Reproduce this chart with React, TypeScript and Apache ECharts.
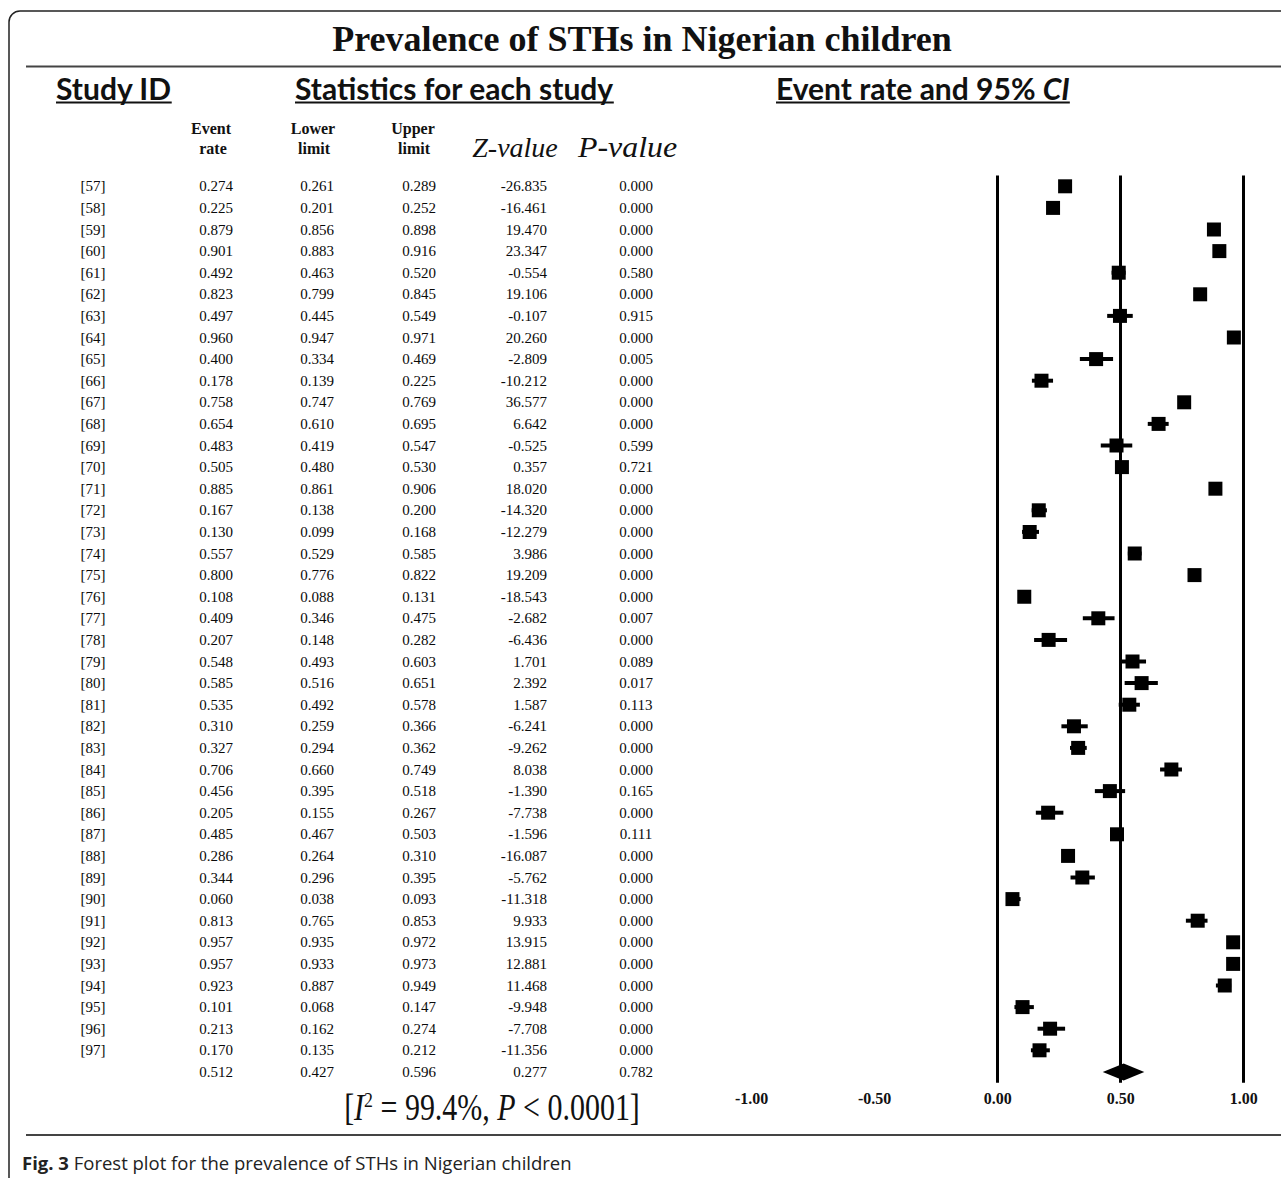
import React, { useEffect, useRef } from "react";
import * as echarts from "echarts";

const studyIds = [
  "[57]", "[58]", "[59]", "[60]", "[61]", "[62]", "[63]", "[64]", "[65]", "[66]",
  "[67]", "[68]", "[69]", "[70]", "[71]", "[72]", "[73]", "[74]", "[75]", "[76]",
  "[77]", "[78]", "[79]", "[80]", "[81]", "[82]", "[83]", "[84]", "[85]", "[86]",
  "[87]", "[88]", "[89]", "[90]", "[91]", "[92]", "[93]", "[94]", "[95]", "[96]", "[97]",
];
const eventRate = [
  0.274, 0.225, 0.879, 0.901, 0.492, 0.823, 0.497, 0.960, 0.400, 0.178,
  0.758, 0.654, 0.483, 0.505, 0.885, 0.167, 0.130, 0.557, 0.800, 0.108,
  0.409, 0.207, 0.548, 0.585, 0.535, 0.310, 0.327, 0.706, 0.456, 0.205,
  0.485, 0.286, 0.344, 0.060, 0.813, 0.957, 0.957, 0.923, 0.101, 0.213, 0.170,
];
const lowerLimit = [
  0.261, 0.201, 0.856, 0.883, 0.463, 0.799, 0.445, 0.947, 0.334, 0.139,
  0.747, 0.610, 0.419, 0.480, 0.861, 0.138, 0.099, 0.529, 0.776, 0.088,
  0.346, 0.148, 0.493, 0.516, 0.492, 0.259, 0.294, 0.660, 0.395, 0.155,
  0.467, 0.264, 0.296, 0.038, 0.765, 0.935, 0.933, 0.887, 0.068, 0.162, 0.135,
];
const upperLimit = [
  0.289, 0.252, 0.898, 0.916, 0.520, 0.845, 0.549, 0.971, 0.469, 0.225,
  0.769, 0.695, 0.547, 0.530, 0.906, 0.200, 0.168, 0.585, 0.822, 0.131,
  0.475, 0.282, 0.603, 0.651, 0.578, 0.366, 0.362, 0.749, 0.518, 0.267,
  0.503, 0.310, 0.395, 0.093, 0.853, 0.972, 0.973, 0.949, 0.147, 0.274, 0.212,
];
const zValue = [
  -26.835, -16.461, 19.470, 23.347, -0.554, 19.106, -0.107, 20.260, -2.809, -10.212,
  36.577, 6.642, -0.525, 0.357, 18.020, -14.320, -12.279, 3.986, 19.209, -18.543,
  -2.682, -6.436, 1.701, 2.392, 1.587, -6.241, -9.262, 8.038, -1.390, -7.738,
  -1.596, -16.087, -5.762, -11.318, 9.933, 13.915, 12.881, 11.468, -9.948, -7.708, -11.356,
];
const pValue = [
  0.000, 0.000, 0.000, 0.000, 0.580, 0.000, 0.915, 0.000, 0.005, 0.000,
  0.000, 0.000, 0.599, 0.721, 0.000, 0.000, 0.000, 0.000, 0.000, 0.000,
  0.007, 0.000, 0.089, 0.017, 0.113, 0.000, 0.000, 0.000, 0.165, 0.000,
  0.111, 0.000, 0.000, 0.000, 0.000, 0.000, 0.000, 0.000, 0.000, 0.000, 0.000,
];
// pooled (summary) row: event rate, lower, upper, Z, P
const pooledRate = 0.512;
const pooledLower = 0.427;
const pooledUpper = 0.596;
const pooledZ = 0.277;
const pooledP = 0.782;

const xMin = -1;
const xMax = 1;
const xInterval = 0.5;
const referenceLines = [0, 0.5, 1];

const SERIF = '"Liberation Serif", "Times New Roman", serif';
const SANS = 'Lato, "Open Sans", sans-serif';

function measure(text: string, font: string): number {
  const ctx = document.createElement("canvas").getContext("2d");
  if (!ctx) return text.length * 10;
  ctx.font = font;
  return ctx.measureText(text).width;
}

export default function App() {
  const ref = useRef<HTMLDivElement>(null);

  useEffect(() => {
    document.body.style.margin = "0";
    if (!ref.current) return;
    const chart = echarts.init(ref.current, undefined, { renderer: "svg" });

    const nStudies = studyIds.length;
    const rowLabels = [...studyIds, ""];
    const rows = rowLabels.map((_, i) => {
      const pooled = i === nStudies;
      return {
        id: rowLabels[i],
        er: pooled ? pooledRate : eventRate[i],
        lo: pooled ? pooledLower : lowerLimit[i],
        hi: pooled ? pooledUpper : upperLimit[i],
        z: pooled ? pooledZ : zValue[i],
        p: pooled ? pooledP : pValue[i],
        pooled,
      };
    });

    const tableFont = `15px ${SERIF}`;
    const headFont = `bold 30px ${SANS}`;
    const headItalicFont = `italic bold 30px ${SANS}`;

    const h1 = "Study ID";
    const h2 = "Statistics for each study";
    const h3a = "Event rate and 95% ";
    const h3b = "CI";
    const w1 = measure(h1, headFont);
    const w2 = measure(h2, headFont);
    const w3 = measure(h3a, headFont) + measure(h3b, headItalicFont);
    const h1x = 56, h2x = 295, h3x = 776;
    const headY = 88;
    const ulY = 102.5;

    const colHeadFont = `bold 16px ${SERIF}`;

    const mk = (text: string, x: number, y: number, font: string, align = "center", extra: any = {}, el: any = {}) => ({
      type: "text",
      x,
      y,
      silent: true,
      ...el,
      style: {
        text,
        x: 0,
        y: 0,
        font,
        fill: "#111",
        align,
        verticalAlign: "middle",
        textAlign: align,
        textVerticalAlign: "middle",
        ...extra,
      },
    });

    const option: any = {
      animation: false,
      backgroundColor: "#fff",
      grid: { left: 751.7, width: 492, top: 175.5, height: 907.2, containLabel: false },
      xAxis: {
        type: "value",
        min: xMin,
        max: xMax,
        interval: xInterval,
        axisLine: { show: false },
        axisTick: { show: false },
        splitLine: { show: false },
        axisLabel: {
          margin: 8,
          formatter: (v: number) => v.toFixed(2),
          fontFamily: SERIF,
          fontWeight: "bold",
          fontSize: 16,
          color: "#111",
        },
      },
      yAxis: {
        type: "category",
        data: rowLabels,
        inverse: true,
        show: false,
      },
      series: [
        {
          type: "custom",
          name: "forest",
          clip: false,
          encode: { x: 0, y: 1 },
          data: rows.map((r, i) => [r.er, i, r.lo, r.hi, r.pooled ? 1 : 0]),
          renderItem: (_p: any, api: any) => {
            const est = api.value(0);
            const i = api.value(1);
            const lo = api.value(2);
            const hi = api.value(3);
            const pooled = api.value(4);
            const c = api.coord([est, i]);
            const xl = api.coord([lo, i])[0];
            const xh = api.coord([hi, i])[0];
            if (pooled) {
              return {
                type: "polygon",
                shape: { points: [[xl, c[1]], [c[0], c[1] - 8.5], [xh, c[1]], [c[0], c[1] + 8.5]] },
                style: { fill: "#000" },
              };
            }
            return {
              type: "group",
              children: [
                { type: "line", shape: { x1: xl, y1: c[1], x2: xh, y2: c[1] }, style: { stroke: "#000", lineWidth: 4 } },
                { type: "rect", shape: { x: c[0] - 7, y: c[1] - 7, width: 14, height: 14 }, style: { fill: "#000" } },
              ],
            };
          },
          markLine: {
            silent: true,
            symbol: "none",
            label: { show: false },
            lineStyle: { color: "#000", width: 3, type: "solid" },
            data: referenceLines.map((v) => ({ xAxis: v })),
          },
          z: 3,
        },
        {
          type: "custom",
          name: "table",
          clip: false,
          encode: { x: 0, y: 1 },
          data: rows.map((_, i) => [0, i]),
          renderItem: (_p: any, api: any) => {
            const i = api.value(1);
            const y = api.coord([0, i])[1];
            const r = rows[i];
            const t = (text: string, x: number, align: string) => ({
              type: "text",
              style: {
                text,
                x,
                y,
                font: tableFont,
                fill: "#0a0a0a",
                align,
                verticalAlign: "middle",
                textAlign: align,
                textVerticalAlign: "middle",
              },
            });
            return {
              type: "group",
              children: [
                t(r.id, 93, "center"),
                t(r.er.toFixed(3), 216, "center"),
                t(r.lo.toFixed(3), 317, "center"),
                t(r.hi.toFixed(3), 419, "center"),
                t(r.z.toFixed(3), 547, "right"),
                t(r.p.toFixed(3), 636, "center"),
              ],
            };
          },
        },
      ],
      graphic: {
        elements: [
          {
            type: "rect",
            silent: true,
            shape: { x: 9, y: 11, width: 1300, height: 1200, r: 11 },
            style: { fill: "none", stroke: "#222", lineWidth: 1.5 },
          },
          {
            type: "line",
            silent: true,
            shape: { x1: 26, y1: 66.5, x2: 1281, y2: 66.5 },
            style: { stroke: "#444", lineWidth: 2 },
          },
          {
            type: "line",
            silent: true,
            shape: { x1: 26, y1: 1135, x2: 1281, y2: 1135 },
            style: { stroke: "#444", lineWidth: 2 },
          },
          mk("Prevalence of STHs in Nigerian children", 642, 39, `bold 36px ${SERIF}`),
          mk(h1, h1x, headY, headFont, "left"),
          mk(h2, h2x, headY, headFont, "left"),
          mk(`${h3a}{i|${h3b}}`, h3x, headY, headFont, "left", {
            rich: { i: { fontStyle: "italic", fontWeight: "bold", fontSize: 30, fontFamily: SANS, fill: "#111" } },
          }),
          { type: "line", silent: true, shape: { x1: h1x, y1: ulY, x2: h1x + w1, y2: ulY }, style: { stroke: "#111", lineWidth: 2 } },
          { type: "line", silent: true, shape: { x1: h2x, y1: ulY, x2: h2x + w2, y2: ulY }, style: { stroke: "#111", lineWidth: 2 } },
          { type: "line", silent: true, shape: { x1: h3x, y1: ulY, x2: h3x + w3, y2: ulY }, style: { stroke: "#111", lineWidth: 2 } },
          mk("Event", 211, 128, colHeadFont),
          mk("rate", 213, 148, colHeadFont),
          mk("Lower", 313, 128, colHeadFont),
          mk("limit", 314, 148, colHeadFont),
          mk("Upper", 413, 128, colHeadFont),
          mk("limit", 414, 148, colHeadFont),
          mk("Z-value", 515, 147, `italic 28px ${SERIF}`),
          mk("P-value", 578, 147, `italic 29px ${SERIF}`, "left", {}, { scaleX: 1.1 }),
          {
            type: "text",
            silent: true,
            x: 492,
            y: 1107,
            scaleX: 0.81,
            style: {
              text: "[{i|I}{s|2} = 99.4%, {i|P} < 0.0001]",
              x: 0,
              y: 0,
              font: `37px ${SERIF}`,
              fill: "#111",
              align: "center",
              verticalAlign: "middle",
              textAlign: "center",
              textVerticalAlign: "middle",
              rich: {
                i: { fontStyle: "italic", fontSize: 37, fontFamily: SERIF, fill: "#111" },
                s: { fontSize: 22, fontFamily: SERIF, fill: "#111", verticalAlign: "top", padding: [0, 0, 14, 0] },
              },
            },
          },
          mk("{b|Fig. 3} Forest plot for the prevalence of STHs in Nigerian children", 22, 1162, `18.5px "Open Sans", sans-serif`, "left", {
            fill: "#222",
            rich: { b: { fontWeight: "bold", fontSize: 18.5, fontFamily: '"Open Sans", sans-serif', fill: "#222" } },
          }),
        ],
      },
    };

    chart.setOption(option);
    return () => chart.dispose();
  }, []);

  return (
    <div
      ref={ref}
      style={{ position: "absolute", left: 0, top: 0, width: 1281, height: 1178, background: "#fff" }}
    />
  );
}
